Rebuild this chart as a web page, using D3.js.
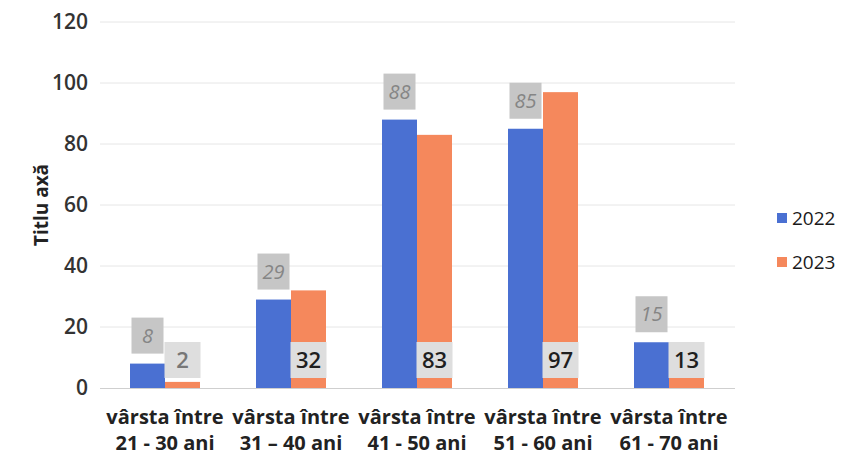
<!DOCTYPE html>
<html lang="ro">
<head>
<meta charset="utf-8">
<title>Vârsta</title>
<script src="https://d3js.org/d3.v7.min.js"></script>
<style>
  body { margin: 0; background: #fff; }
  svg { display: block; }
  text { font-family: "Open Sans", "Noto Sans", sans-serif; }
</style>
</head>
<body>
<svg id="chart" width="846" height="468"></svg>
<script>
// date
const categories = [
  ["vârsta între", "21 - 30 ani"],
  ["vârsta între", "31 – 40 ani"],
  ["vârsta între", "41 -  50 ani"],
  ["vârsta între", "51 -  60 ani"],
  ["vârsta între", "61 -  70 ani"]
];
const series = ["2022", "2023"];
const values2022 = [8, 29, 88, 85, 15];
const values2023 = [2, 32, 83, 97, 13];
const yTicks = [0, 20, 40, 60, 80, 100, 120];
const colors = ["#4a70d2", "#f5885c"];

const svg = d3.select("#chart");

const x0 = d3.scaleBand().domain(d3.range(categories.length)).range([102, 732]);
const x1 = d3.scaleBand().domain(series).range([28, x0.bandwidth() - 28]);
const y = d3.scaleLinear().domain([0, 120]).range([388, 22]);

// grid
svg.append("g").selectAll("line").data(yTicks.slice(1)).enter().append("line")
  .attr("x1", 100).attr("x2", 735)
  .attr("y1", d => y(d)).attr("y2", d => y(d))
  .attr("stroke", "#e6e6e6").attr("stroke-width", 1);

// y axis (labels only)
const yAxis = d3.axisLeft(y).tickValues(yTicks).tickSize(0).tickPadding(12);
const ga = svg.append("g").attr("transform", "translate(100,0)").call(yAxis);
ga.select(".domain").remove();
ga.selectAll("text").attr("font-size", 21).attr("fill", "#333")
  .style("font-family", "'Open Sans', sans-serif").attr("font-weight", 600);

svg.append("text")
  .attr("transform", "translate(48,205) rotate(-90)")
  .attr("text-anchor", "middle")
  .attr("font-size", 19).attr("font-weight", "bold").attr("fill", "#222")
  .text("Titlu axă");

const rows = categories.map((c, i) => ({ i, v: [values2022[i], values2023[i]] }));

const groups = svg.append("g").selectAll("g").data(rows).enter().append("g")
  .attr("transform", d => "translate(" + x0(d.i) + ",0)");

groups.selectAll("rect.bar").data(d => d.v.map((v, k) => ({ k, v }))).enter().append("rect")
  .attr("class", "bar")
  .attr("x", d => x1(series[d.k]))
  .attr("width", x1.bandwidth())
  .attr("y", d => y(d.v))
  .attr("height", d => y(0) - y(d.v))
  .attr("fill", d => colors[d.k]);

// baseline
svg.append("line").attr("x1", 100).attr("x2", 735)
  .attr("y1", y(0) + 0.5).attr("y2", y(0) + 0.5)
  .attr("stroke", "#cfcfcf");

// 2022 labels: grey boxes above bars
const lab1 = groups.append("g")
  .attr("transform", d => "translate(" + (x1("2022") + x1.bandwidth() / 2) + "," + (y(d.v[0]) - 28) + ")");
lab1.append("rect").attr("x", -16).attr("y", -18).attr("width", 32).attr("height", 36)
  .attr("fill", "#c6c6c6");
lab1.append("text").attr("text-anchor", "middle").attr("dy", "0.35em")
  .attr("font-size", 20).attr("font-style", "italic").attr("fill", "#858585")
  .text(d => d.v[0]);

// 2023 labels: light boxes at the bottom of bars
const lab2 = groups.append("g")
  .attr("transform", d => "translate(" + (x1("2023") + x1.bandwidth() / 2) + "," + (y(0) - 28) + ")");
lab2.append("rect").attr("x", -18).attr("y", -18).attr("width", 36).attr("height", 36)
  .attr("fill", "#dedede");
lab2.append("text").attr("text-anchor", "middle").attr("dy", "0.35em")
  .attr("font-size", 22).attr("font-weight", 600)
  .attr("fill", d => d.i === 0 ? "#777" : "#1f1f1f")
  .text(d => d.v[1]);

// category labels
const cl = svg.append("g").selectAll("text").data(categories).enter().append("text")
  .attr("x", (d, i) => x0(i) + x0.bandwidth() / 2)
  .attr("y", 424)
  .attr("text-anchor", "middle")
  .attr("font-size", 20).attr("font-weight", "bold").attr("fill", "#222")
  .style("font-family", "'Liberation Sans Narrow', 'Open Sans', sans-serif");
cl.append("tspan").attr("x", (d, i) => x0(i) + x0.bandwidth() / 2).text(d => d[0]);
cl.append("tspan").attr("x", (d, i) => x0(i) + x0.bandwidth() / 2).attr("dy", 26).text(d => d[1]);

// legend
const lg = svg.append("g").selectAll("g").data(series).enter().append("g")
  .attr("transform", (d, i) => "translate(777," + (218 + i * 44) + ")");
lg.append("rect").attr("x", 0).attr("y", -5).attr("width", 10).attr("height", 10)
  .attr("fill", (d, i) => colors[i]);
lg.append("text").attr("x", 15).attr("dy", "0.35em")
  .attr("font-size", 19).attr("fill", "#1a1a1a").text(d => d);
</script>
</body>
</html>
